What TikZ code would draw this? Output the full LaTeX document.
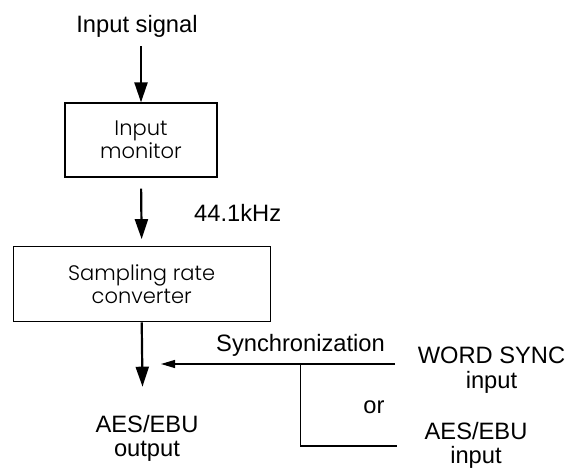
\documentclass[tikz,border=0pt]{standalone}
\usepackage{fontspec}
\setmainfont{Liberation Sans}
\newfontfamily\boxfont{Poppins Light}
\usetikzlibrary{arrows.meta,positioning}

\begin{document}
\begin{tikzpicture}[
        x=1pt, y=-1pt,
        font=\fontsize{23.7}{24.5}\selectfont,
        block/.style={rectangle, draw=black, line width=1.2pt, align=center, inner sep=0pt, font=\boxfont\fontsize{21}{23}\selectfont},
        txt/.style={align=center, inner sep=2pt},
        arrow/.style={-{Triangle[length=20pt, width=13pt]}, line width=2.2pt},
        syncarrow/.style={-{Triangle[length=14pt, width=8pt]}, line width=1.1pt},
        syncline/.style={line width=1.1pt}
    ]
    \useasboundingbox (0,0) rectangle (570,470);

    \node[txt, anchor=base] (insig) at (137,33) {Input signal};
    \node[block, minimum width=152, minimum height=74] (monitor) at (141,140) {Input\\monitor};
    \node[txt, anchor=base west] (rate) at (192,221.7) {44.1kHz};
    \node[block, minimum width=257, minimum height=75] (src) at (141.7,284.2) {Sampling rate\\converter};
    % two-line labels: base anchor sits on the last line
    \node[txt, anchor=base] (aesout) at (147,456.7) {AES/EBU\\output};

    \node[txt, anchor=base west] (synclbl) at (214,351.7) {Synchronization};
    \node[txt, anchor=base] (wordsync) at (491.5,388) {WORD SYNC\\input};
    \node[txt, anchor=base] (orlbl) at (374,413) {or};
    \node[txt, anchor=base] (aesin) at (476,463.5) {AES/EBU\\input};

    \coordinate (outtip) at (142.5,386.7);
    \coordinate (wsend) at (395,364);
    \coordinate (synctip) at (161,364);
    \coordinate (branch) at (300.7,364);
    \coordinate (aesend) at (396.7,446);

    \draw[arrow, shorten <=6pt] (insig.south -| monitor.north) -- (monitor.north);
    \draw[arrow, shorten <=11pt, shorten >=7pt] (monitor.south) -- (src.north);
    \draw[arrow] (src.south) -- (outtip);

    \draw[syncarrow] (wsend) -- (synctip);
    \draw[syncline] (branch) |- (aesend);
\end{tikzpicture}
\end{document}
